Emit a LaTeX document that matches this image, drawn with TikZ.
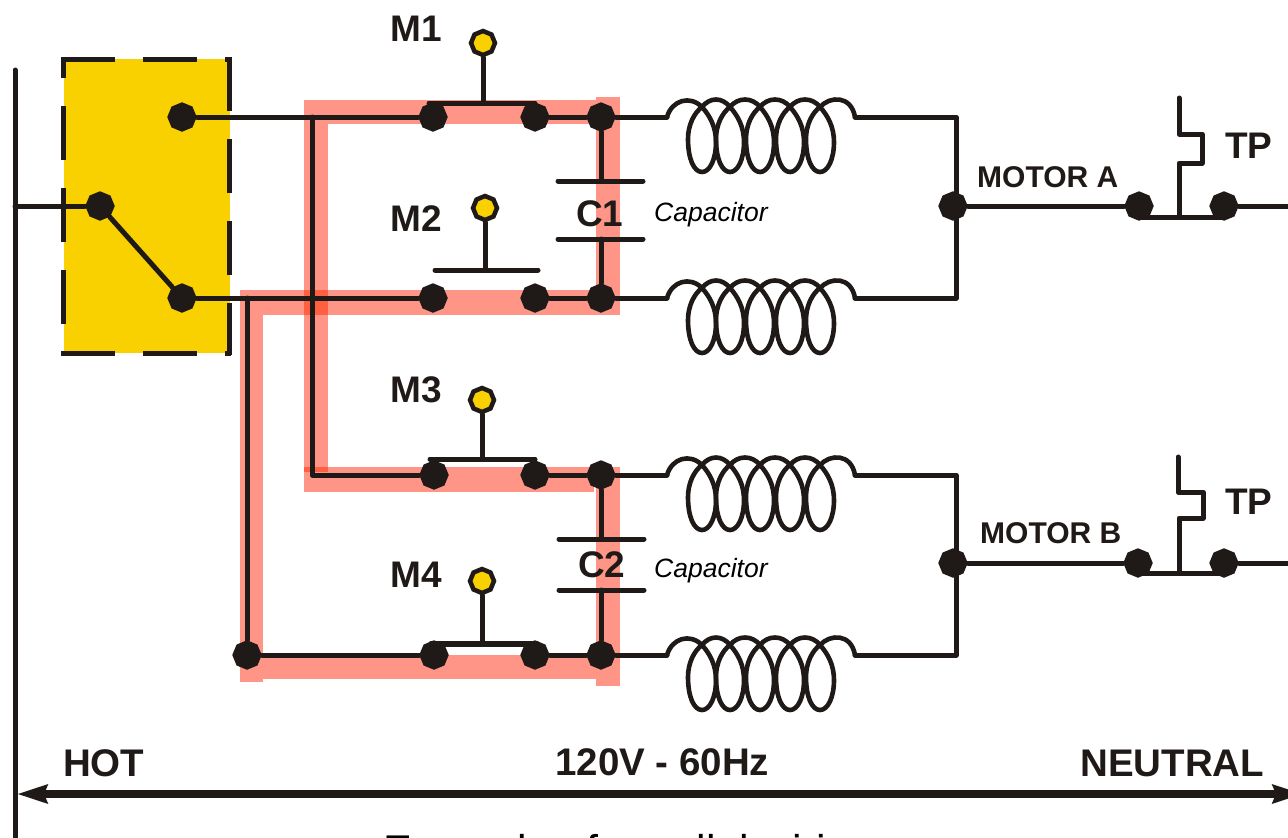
\documentclass[tikz,border=0pt]{standalone}
\usepackage{fontspec}
\setmainfont{Liberation Sans}
\usetikzlibrary{arrows.meta,shapes.geometric,backgrounds}
\definecolor{blk}{HTML}{1F1A17}
\definecolor{yel}{HTML}{F9D000}
\definecolor{pnk}{HTML}{FF9587}
\definecolor{pnkd}{HTML}{FF6040}
\tikzset{
  wire/.style={draw=blk,line width=5pt,line cap=round,line join=round},
  coilwire/.style={draw=blk,line width=4.6pt,line cap=round,line join=round},
  dashbox/.style={draw=blk,line width=5pt,dash pattern=on 54pt off 28pt},
  term/.style={regular polygon,regular polygon sides=8,shape border rotate=22.5,fill=blk,inner sep=0pt,minimum size=29.5pt},
  knob/.style={regular polygon,regular polygon sides=8,shape border rotate=22.5,draw=blk,fill=yel,line width=4.5pt,inner sep=0pt,minimum size=24pt},
  lab/.style={anchor=base west,inner sep=0pt,text=blk,font=\fontsize{37}{40}\selectfont\bfseries},
  midlab/.style={lab,font=\fontsize{30}{34}\selectfont\bfseries},
  biglab/.style={lab,font=\fontsize{38.5}{42}\selectfont\bfseries},
  capnote/.style={anchor=base west,inner sep=0pt,text=black,font=\fontsize{26.5}{30}\selectfont\itshape},
  coilshape/.pic={
    \draw[coilwire] (0,0) .. controls (5,-17) and (23,-22) .. (35,-10);
    \foreach \c/\p in {35/35,63/35,93/63,123/93,153/123}{
      \ifnum\c=35\else
        \draw[coilwire] (\p,-10) .. controls ({\p+8},-20) and ({\c-8},-20) .. (\c,-10);
      \fi
      \draw[coilwire] (\c,-10) .. controls ({\c+8},-1) and ({\c+14},10) .. ({\c+14},25)
        .. controls ({\c+14},42) and ({\c+8},55) .. (\c,55)
        .. controls ({\c-8},55) and ({\c-14},42) .. ({\c-14},22)
        .. controls ({\c-14},8) and ({\c-8},-4) .. (\c,-10);
    }
    \draw[coilwire] (153,-10) .. controls (163,-21) and (184,-22) .. (188,0);
  }
}
\begin{document}
\begin{tikzpicture}[x=1pt,y=-1pt]
\useasboundingbox (0,0) rectangle (1288,838);

% terminals and knobs
\node[term] (s0) at (100,206) {};
\node[term] (s1) at (182,117) {};
\node[term] (s2) at (182,298) {};
\node[term] (a1) at (433,117) {};
\node[term] (a2) at (535,117) {};
\node[term] (a3) at (601,117) {};
\node[term] (b1) at (433,298) {};
\node[term] (b2) at (535,298) {};
\node[term] (b3) at (601,298) {};
\node[term] (c1) at (434,475) {};
\node[term] (c2) at (535,475) {};
\node[term] (c3) at (601,475) {};
\node[term] (d0) at (247,655) {};
\node[term] (d1) at (434,655) {};
\node[term] (d2) at (535,655) {};
\node[term] (d3) at (601,655) {};
\node[term] (ja) at (953,206) {};
\node[term] (jb) at (953,563) {};
\node[term] (ta1) at (1139,206) {};
\node[term] (ta2) at (1224,206) {};
\node[term] (tb1) at (1138,563) {};
\node[term] (tb2) at (1224,563) {};
\node[knob] (k1) at (483,43) {};
\node[knob] (k2) at (485,208) {};
\node[knob] (k3) at (482,400) {};
\node[knob] (k4) at (482,581) {};

% named free ends
\coordinate (hotT) at (15,70);
\coordinate (hotB) at (15,845);
\coordinate (hotS) at (15,206);
\coordinate (tap1) at (312,117);
\coordinate (tap1b) at (312,475);
\coordinate (tap2) at (247,298);
\coordinate (ca1in) at (667,117);
\coordinate (ca1out) at (855,117);
\coordinate (ca2in) at (667,298);
\coordinate (ca2out) at (855,298);
\coordinate (cb1in) at (667,475);
\coordinate (cb1out) at (855,475);
\coordinate (cb2in) at (667,655);
\coordinate (cb2out) at (855,655);
\coordinate (ra1) at (956,117);
\coordinate (ra2) at (956,298);
\coordinate (rb1) at (956,475);
\coordinate (rb2) at (956,655);
\coordinate (enda) at (1295,206);
\coordinate (endb) at (1295,563);
\coordinate (arL) at (17,794);
\coordinate (arR) at (1303,794);
\coordinate (m1l) at (429,103); \coordinate (m1r) at (535,103);
\coordinate (m2l) at (435,270); \coordinate (m2r) at (538,270);
\coordinate (m3l) at (430,459); \coordinate (m3r) at (535,459);
\coordinate (m4l) at (431,644); \coordinate (m4r) at (537,644);
\coordinate (p1al) at (558,181); \coordinate (p1ar) at (643,181);
\coordinate (p1bl) at (558,239); \coordinate (p1br) at (643,239);
\coordinate (p2al) at (559,539); \coordinate (p2ar) at (644,539);
\coordinate (p2bl) at (559,590); \coordinate (p2br) at (644,590);
\coordinate (ub1) at (1139,217); \coordinate (ub2) at (1224,217);
\coordinate (va0) at (1179,217); \coordinate (va1) at (1179,163); \coordinate (va2) at (1202,163);
\coordinate (va3) at (1202,134); \coordinate (va4) at (1179,134); \coordinate (va5) at (1179,98);
\coordinate (ubb1) at (1138,573); \coordinate (ubb2) at (1224,573);
\coordinate (vb0) at (1179,573); \coordinate (vb1) at (1179,518); \coordinate (vb2) at (1203,518);
\coordinate (vb3) at (1203,492); \coordinate (vb4) at (1178,492); \coordinate (vb5) at (1178,457);

\begin{pgfonlayer}{background}
% yellow box
\fill[yel] (64,59) rectangle (229.5,353);
% pink highlights
\fill[pnk] (304,100) rectangle (596,124);
\fill[pnk] (596,97) rectangle (620,315);
\fill[pnk] (304,100) rectangle (328,492);
\fill[pnk] (240,290) rectangle (620,315);
\fill[pnk] (240,290) rectangle (263,682);
\fill[pnk] (304,467) rectangle (594,492);
\fill[pnk] (596,467) rectangle (620,686);
\fill[pnk] (240,655) rectangle (596,679);
\fill[pnkd] (304,290) rectangle (328,315);
\fill[pnkd] (304,467) rectangle (328,472);
% dashed box edges
\draw[dashbox] (61,59) -- (229,59);
\draw[dashbox,dash phase=34pt] (63,58) -- (63,353);
\draw[dashbox] (229,57) -- (229,355);
\draw[dashbox] (61,353) -- (231,353);
% wires
\draw[wire] (hotT) -- (hotB);
\draw[wire] (hotS) -- (s0);
\draw[wire] (s0) -- (s2);
\draw[wire] (s1) -- (a1);
\draw[wire] (a2) -- (a3) -- (ca1in);
\draw[wire] (s2) -- (b1);
\draw[wire] (b2) -- (b3) -- (ca2in);
\draw[wire] (tap1) -- (tap1b) -- (c1);
\draw[wire] (c2) -- (c3) -- (cb1in);
\draw[wire] (tap2) -- (d0) -- (d1);
\draw[wire] (d2) -- (d3) -- (cb2in);
\draw[wire] (ca1out) -- (ra1) -- (ra2) -- (ca2out);
\draw[wire] (cb1out) -- (rb1) -- (rb2) -- (cb2out);
\draw[wire] (ja) -- (ta1);
\draw[wire] (ta2) -- (enda);
\draw[wire] (jb) -- (tb1);
\draw[wire] (tb2) -- (endb);
% contact bars
\draw[wire] (m1l) -- (m1r);
\draw[wire] (m2l) -- (m2r);
\draw[wire] (m3l) -- (m3r);
\draw[wire,line width=5.5pt] (m4l) -- (m4r);
\draw[wire] (k1) -- (k1|-m1l);
\draw[wire] (k2) -- (k2|-m2l);
\draw[wire] (k3) -- (k3|-m3l);
\draw[wire] (k4) -- (k4|-m4l);
% capacitors
\draw[wire] (p1al) -- (p1ar);
\draw[wire] (p1bl) -- (p1br);
\draw[wire] (p2al) -- (p2ar);
\draw[wire] (p2bl) -- (p2br);
\draw[wire] (a3) -- (a3|-p1al);
\draw[wire] (a3|-p1bl) -- (b3);
\draw[wire] (c3) -- (c3|-p2al);
\draw[wire] (c3|-p2bl) -- (d3);
% overload contacts
\draw[wire] (ub1) -- (ub2);
\draw[wire] (va0) -- (va1) -- (va2) -- (va3) -- (va4) -- (va5);
\draw[wire] (ubb1) -- (ubb2);
\draw[wire] (vb0) -- (vb1) -- (vb2) -- (vb3) -- (vb4) -- (vb5);
\end{pgfonlayer}

% coils
\pic at (ca1in) {coilshape};
\pic at (ca2in) {coilshape};
\pic at (cb1in) {coilshape};
\pic at (cb2in) {coilshape};

% main arrow
\draw[blk,line width=7.5pt,{Stealth[length=30pt,width=18pt,inset=3pt]}-{Stealth[length=30pt,width=18pt,inset=3pt]}] (arL) -- (arR);

% labels
\node[lab] (lm1) at (390,41) {M1};
\node[lab] (lm2) at (390,231) {M2};
\node[lab] (lm3) at (390,402) {M3};
\node[lab] (lm4) at (390,587) {M4};
\node[lab] (lc1) at (576,226) {C1};
\node[lab] (lc2) at (578,577) {C2};
\node[capnote] (n1) at (654,221) {Capacitor};
\node[capnote] (n2) at (654,577) {Capacitor};
\node[midlab] (ma) at (977,187) {MOTOR A};
\node[midlab] (mb) at (980,543) {MOTOR B};
\node[lab] (tpa) at (1225,158) {TP};
\node[lab] (tpb) at (1225,514) {TP};
\node[biglab] (hot) at (63,776) {HOT};
\node[biglab] (volt) at (555,775) {120V - 60Hz};
\node[biglab] (neu) at (1080,776) {NEUTRAL};
\node[anchor=base west,inner sep=0pt,text=black,font=\fontsize{43}{46}\selectfont] (cap) at (383.6,865) {Example of parallel wiring};
\end{tikzpicture}
\end{document}
